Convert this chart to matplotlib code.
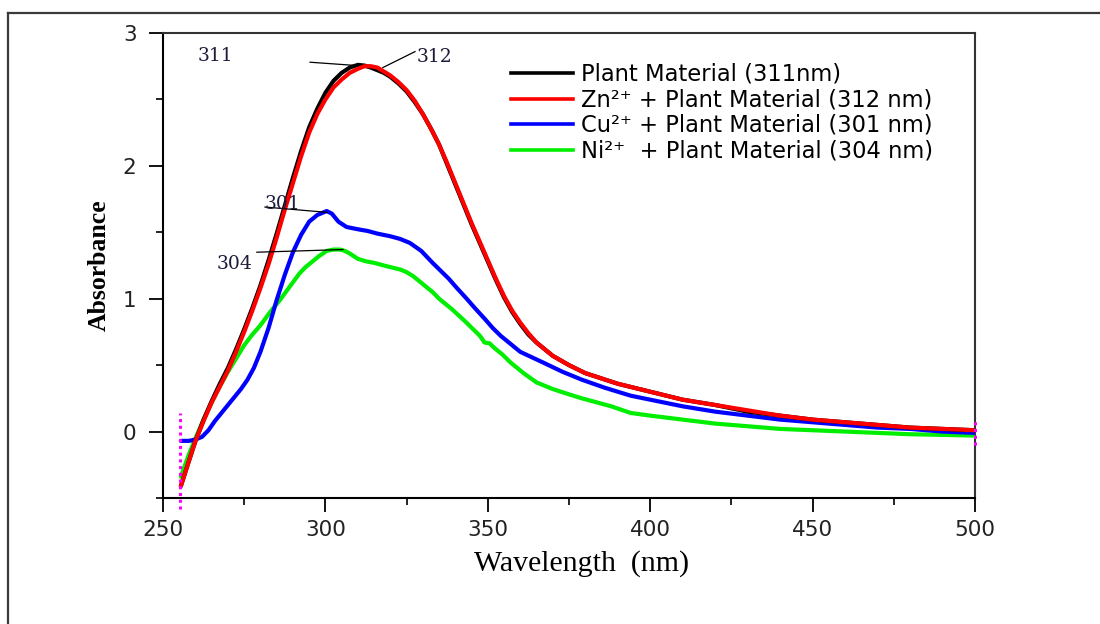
import matplotlib
matplotlib.use("Agg")
import matplotlib.pyplot as plt
from matplotlib.lines import Line2D
from matplotlib.ticker import MultipleLocator

# ---- data ----
wl_plant = [255.5, 258, 260, 262.5, 265, 267.5, 270, 272.5, 275, 277.5, 280, 282.5, 285,
            287.5, 290, 292.5, 295, 297.5, 300, 302.5, 305, 307.5, 310, 312, 314, 316, 318,
            320, 322.5, 325, 327.5, 330, 332.5, 335, 337.5, 340, 342.5, 345, 347.5, 350,
            352.5, 355, 357.5, 360, 362.5, 365, 367.5, 370, 375, 380, 385, 390, 400, 410,
            420, 430, 440, 450, 460, 470, 480, 490, 500]
abs_plant = [-0.41, -0.22, -0.07, 0.09, 0.23, 0.36, 0.48, 0.62, 0.77, 0.93, 1.10, 1.29, 1.49,
             1.70, 1.91, 2.11, 2.29, 2.43, 2.55, 2.64, 2.70, 2.74, 2.76, 2.755, 2.74, 2.72,
             2.70, 2.67, 2.62, 2.56, 2.48, 2.39, 2.28, 2.16, 2.01, 1.86, 1.71, 1.56, 1.42,
             1.28, 1.14, 1.01, 0.90, 0.81, 0.73, 0.67, 0.62, 0.57, 0.50, 0.44, 0.40, 0.36,
             0.30, 0.24, 0.20, 0.15, 0.12, 0.09, 0.07, 0.05, 0.03, 0.02, 0.01]

wl_zn = [255.5, 258, 260, 262.5, 265, 267.5, 270, 272.5, 275, 277.5, 280, 282.5, 285,
         287.5, 290, 292.5, 295, 297.5, 300, 302.5, 305, 307.5, 310, 312, 314, 316, 318,
         320, 322.5, 325, 327.5, 330, 332.5, 335, 337.5, 340, 342.5, 345, 347.5, 350,
         352.5, 355, 357.5, 360, 362.5, 365, 367.5, 370, 375, 380, 385, 390, 400, 410,
         420, 430, 440, 450, 460, 470, 480, 490, 500]
abs_zn = [-0.41, -0.22, -0.07, 0.08, 0.22, 0.34, 0.46, 0.60, 0.75, 0.91, 1.08, 1.26, 1.46,
          1.67, 1.87, 2.07, 2.25, 2.39, 2.50, 2.59, 2.65, 2.70, 2.73, 2.75, 2.75, 2.74,
          2.71, 2.68, 2.63, 2.57, 2.49, 2.39, 2.28, 2.16, 2.02, 1.87, 1.72, 1.57, 1.43,
          1.29, 1.15, 1.02, 0.91, 0.82, 0.74, 0.67, 0.62, 0.57, 0.50, 0.44, 0.40, 0.36,
          0.30, 0.24, 0.20, 0.16, 0.12, 0.09, 0.07, 0.05, 0.03, 0.02, 0.01]

wl_cu = [255.5, 258, 260, 262, 264, 266, 268, 270, 272, 274, 276, 278, 280, 282.5, 285,
         287.5, 290, 292.5, 295, 297.5, 300.4, 302, 304, 306.5, 308.5, 310.6, 313, 316,
         320, 323, 326, 329.5, 333, 335.5, 338, 340.5, 343.5, 346, 349, 351.5, 354, 357,
         360, 363.5, 367, 373, 379, 386, 394, 400, 410, 420, 430, 440, 450, 460, 470, 480,
         490, 500]
abs_cu = [-0.07, -0.07, -0.06, -0.04, 0.01, 0.08, 0.14, 0.20, 0.26, 0.32, 0.39, 0.48, 0.60,
          0.78, 0.99, 1.18, 1.35, 1.48, 1.58, 1.63, 1.66, 1.64, 1.58, 1.54, 1.53, 1.52,
          1.51, 1.49, 1.47, 1.45, 1.42, 1.36, 1.27, 1.21, 1.15, 1.08, 1.00, 0.93, 0.85,
          0.78, 0.72, 0.66, 0.60, 0.56, 0.52, 0.45, 0.39, 0.33, 0.27, 0.24, 0.19, 0.15,
          0.12, 0.09, 0.07, 0.05, 0.03, 0.02, 0.00, -0.01]

wl_ni = [255.5, 258, 260, 262.5, 265, 267.5, 270, 272.5, 275, 277.5, 280, 283, 286, 289,
         292, 294, 296, 298, 300.4, 302.5, 304.5, 306, 307.5, 310, 312.7, 315, 318, 320.5,
         323, 325, 327, 329, 331, 333, 335, 337, 339, 341, 343, 345.5, 347.6, 349, 350.5,
         352, 354.5, 357, 361, 365, 370, 375, 379, 383.5, 388, 394, 400, 410, 420, 430,
         440, 450, 460, 470, 480, 490, 500]
abs_ni = [-0.34, -0.17, -0.05, 0.09, 0.22, 0.34, 0.45, 0.55, 0.65, 0.73, 0.80, 0.90, 0.99,
          1.09, 1.19, 1.24, 1.28, 1.32, 1.36, 1.37, 1.37, 1.36, 1.34, 1.30, 1.28, 1.27,
          1.25, 1.235, 1.22, 1.20, 1.17, 1.13, 1.09, 1.05, 1.00, 0.96, 0.92, 0.875, 0.83,
          0.77, 0.72, 0.67, 0.665, 0.63, 0.58, 0.52, 0.44, 0.37, 0.32, 0.28, 0.25, 0.22,
          0.19, 0.14, 0.12, 0.09, 0.06, 0.04, 0.02, 0.01, 0.00, -0.01, -0.02, -0.025, -0.03]

labels = ["Plant Material (311nm)",
          "Zn²⁺ + Plant Material (312 nm)",
          "Cu²⁺ + Plant Material (301 nm)",
          "Ni²⁺  + Plant Material (304 nm)"]
colors = ["#000000", "#ff0000", "#0000ff", "#00ee00"]

# baseline markers (magenta)
mark_left_x = [255.3, 255.3]
mark_left_y = [-0.58, 0.14]
mark_right_x = [500, 500]
mark_right_y = [-0.1, 0.1]

# peak annotations: text, text position, leader start, leader end
peak_txt = ["311", "312", "301", "304"]
peak_txt_xy = [(260.8, 2.83), (328.2, 2.82), (281.2, 1.71), (266.4, 1.26)]
peak_line_x = [(295.3, 309.7), (317.7, 327.6), (281.4, 300.5), (278.9, 305.4)]
peak_line_y = [(2.78, 2.755), (2.74, 2.86), (1.69, 1.65), (1.35, 1.37)]

# ---- figure ----
fig = plt.figure(figsize=(11, 6.24), dpi=100)
ax = fig.add_axes([163 / 1100, 1 - 498 / 624, (975 - 163) / 1100, (498 - 33) / 624])

# outer frame (left and top edges visible)
fig.add_artist(Line2D([8 / 1100, 8 / 1100], [0, 1 - 13 / 624], transform=fig.transFigure,
                      color="#3a3a3a", lw=1.6))
fig.add_artist(Line2D([8 / 1100, 1], [1 - 13 / 624, 1 - 13 / 624], transform=fig.transFigure,
                      color="#3a3a3a", lw=1.6))

series = [(wl_plant, abs_plant), (wl_zn, abs_zn), (wl_cu, abs_cu), (wl_ni, abs_ni)]
for i in [3, 2, 0, 1]:
    x, y = series[i]
    ax.plot(x, y, color=colors[i], lw=3.0, solid_capstyle="round", solid_joinstyle="round",
            zorder=3 + (i == 1))
handles = [Line2D([], [], color=c, lw=2.6) for c in colors]

ax.plot(mark_left_x, mark_left_y, color="#ff00ff", lw=2.2, ls=(0, (1, 1.2)), clip_on=False, zorder=5)
ax.plot(mark_right_x, mark_right_y, color="#ff00ff", lw=2.2, ls=(0, (1, 1.2)), clip_on=False, zorder=5)

for t, (tx, ty), lx, ly in zip(peak_txt, peak_txt_xy, peak_line_x, peak_line_y):
    ax.plot(lx, ly, color="black", lw=0.9, zorder=6)
    ax.text(tx, ty, t, fontsize=13.5, family="DejaVu Serif", color="#1c1c3a",
            ha="left", va="center", zorder=7)

ax.set_xlim(250, 500)
ax.set_ylim(-0.5, 3)
ax.xaxis.set_major_locator(MultipleLocator(50))
ax.xaxis.set_minor_locator(MultipleLocator(25))
ax.yaxis.set_major_locator(MultipleLocator(1))
ax.yaxis.set_minor_locator(MultipleLocator(0.5))
ax.tick_params(which="major", direction="out", length=10, width=1.3, labelsize=15.5,
               labelcolor="#222222")
ax.tick_params(axis="y", which="major", pad=9)
ax.tick_params(axis="x", which="major", pad=6)
ax.tick_params(which="minor", direction="out", length=5, width=1.2)
for lab in ax.get_xticklabels() + ax.get_yticklabels():
    lab.set_family("DejaVu Sans")
for s in ax.spines.values():
    s.set_linewidth(1.5)
ax.spines["top"].set_color("#333333")
ax.spines["right"].set_color("#333333")

ax.set_xlabel("Wavelength  (nm)", family="Liberation Serif", fontsize=21.5)
ax.xaxis.set_label_coords((582 - 163) / 812, -0.111)
ax.set_ylabel("Absorbance", family="Liberation Serif", fontweight="bold", fontsize=18.5)
ax.yaxis.set_label_coords(-(163 - 111) / 812, 0.5)

leg = ax.legend(handles, labels, loc="upper left", bbox_to_anchor=(0.417, 0.955),
                frameon=False, prop={"family": "DejaVu Sans", "size": 16.3},
                handlelength=2.75, handletextpad=0.35, labelspacing=0.11, borderaxespad=0)

fig.savefig("out.png", dpi=100)
